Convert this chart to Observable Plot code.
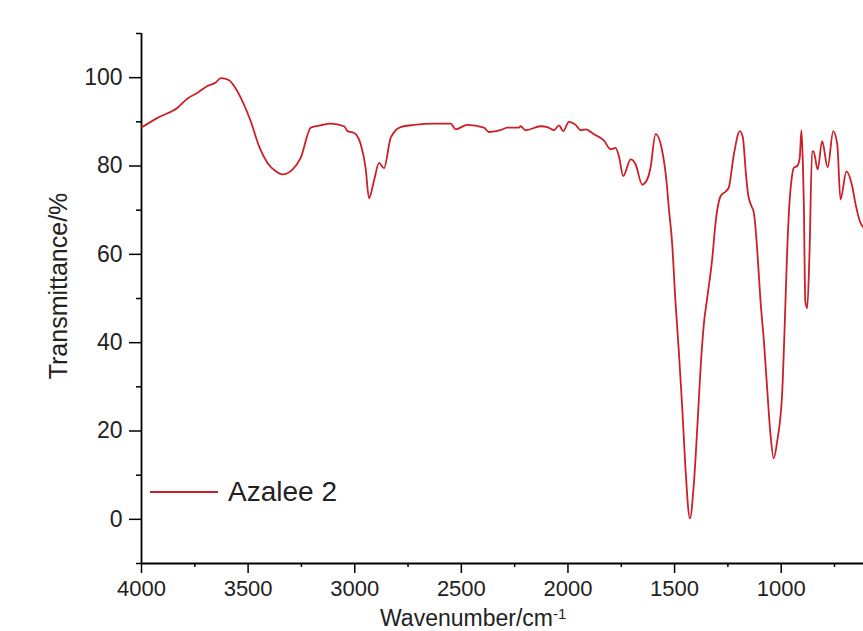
<!DOCTYPE html>
<html>
<head>
<meta charset="utf-8">
<script src="https://cdn.jsdelivr.net/npm/d3@7"></script>
<script src="https://cdn.jsdelivr.net/npm/@observablehq/plot@0.6"></script>
<style>
  html, body { margin: 0; padding: 0; background: #fff; overflow: hidden; }
  #chart { width: 863px; height: 631px; }
  svg { font-family: "Liberation Sans", Arial, sans-serif; }
</style>
</head>
<body>
<div id="chart"></div>
<script>
// Wavenumber (cm^-1) and transmittance (%)
const wavenumber = [
  4000, 3925, 3831, 3784, 3737, 3691, 3652, 3628, 3589, 3566, 3527, 3488, 3449, 3409, 3370, 3339,
  3292, 3253, 3206, 3160, 3113, 3050, 3034, 3010, 2995, 2972, 2949, 2933, 2910, 2886, 2863, 2831,
  2785, 2722, 2628, 2550, 2527, 2472, 2394, 2371, 2316, 2284, 2230, 2222, 2199, 2128, 2097, 2066,
  2042, 2022, 1996, 1964, 1941, 1917, 1878, 1832, 1800, 1777, 1761, 1741, 1706, 1683, 1652, 1628,
  1613, 1589, 1558, 1538, 1527, 1511, 1496, 1480, 1464, 1449, 1428, 1410, 1391, 1378, 1363, 1347,
  1323, 1307, 1292, 1284, 1261, 1246, 1222, 1194, 1180, 1165, 1155, 1140, 1128, 1112, 1097, 1081,
  1066, 1050, 1035, 1019, 995, 985, 972, 960, 950, 941, 925, 913, 905, 898, 894, 887,
  878, 867, 855, 848, 829, 808, 782, 756, 737, 722, 694, 667, 651, 628, 614
];
const transmittance = [
  88.7, 90.9, 93.2, 95.3, 96.6, 98.1, 98.9, 99.9, 99.4, 98.1, 94.7, 90.2, 84.5, 80.7, 78.8, 78.1,
  79.2, 81.9, 88.7, 89.2, 89.6, 89.0, 87.9, 87.6, 87.2, 84.9, 79.6, 72.7, 76.6, 80.7, 79.5, 86.4,
  88.8, 89.3, 89.6, 89.6, 88.3, 89.3, 88.7, 87.7, 88.1, 88.7, 88.7, 89.0, 88.1, 89.0, 88.8, 88.1,
  89.2, 87.9, 90.0, 89.3, 88.1, 88.3, 87.2, 85.8, 83.8, 84.1, 82.2, 77.7, 81.5, 80.4, 75.8, 77.0,
  79.6, 87.2, 83.4, 76.6, 70.5, 62.2, 49.4, 38.0, 25.2, 11.6, 0.2, 7.8, 22.9, 34.2, 44.1, 50.1,
  59.2, 67.5, 72.0, 73.2, 74.2, 75.1, 82.6, 87.9, 86.5, 78.0, 73.5, 71.0, 69.4, 60.7, 49.4, 40.3,
  29.7, 19.1, 13.8, 17.6, 29.0, 41.8, 60.7, 72.5, 77.5, 79.6, 80.0, 81.9, 88.1, 80.0, 72.0, 49.4,
  47.8, 60.7, 83.3, 83.3, 79.2, 85.6, 79.7, 87.9, 84.9, 72.4, 78.8, 75.4, 71.3, 67.1, 66.1
];
const xMajorTicks = [4000, 3500, 3000, 2500, 2000, 1500, 1000];
const xMinorTicks = [3750, 3250, 2750, 2250, 1750, 1250, 750];
const yMajorTicks = [0, 20, 40, 60, 80, 100];
const yMinorTicks = [-10, 10, 30, 50, 70, 90, 110];
const seriesName = "Azalee 2";
const xTitle = "Wavenumber/cm";
const xTitleSup = "-1";
const yTitle = "Transmittance/%";

const data = wavenumber.map((w, i) => ({w, t: transmittance[i]}));
const lineColor = "#cc1f26";
const fmt = d => String(d);

const svg = Plot.plot({
  width: 863,
  height: 631,
  marginLeft: 141,
  marginRight: 0,
  marginTop: 33,
  marginBottom: 68,
  style: {fontFamily: "'Liberation Sans', Arial, sans-serif", background: "#fff"},
  x: {domain: [4000, 614], label: null},
  y: {domain: [-10, 110], label: null},
  marks: [
    Plot.axisX({ticks: xMajorTicks, tickFormat: fmt, tickSize: 10, tickPadding: 7, fontSize: 22, stroke: "#000", strokeWidth: 1.5, color: "#222", label: null}),
    Plot.axisX({ticks: xMinorTicks, tickSize: 4, text: null, stroke: "#000", strokeWidth: 1.5, label: null}),
    Plot.axisY({ticks: yMajorTicks, tickFormat: fmt, tickSize: 12, tickPadding: 7, fontSize: 23, stroke: "#000", strokeWidth: 1.5, color: "#222", label: null}),
    Plot.axisY({ticks: yMinorTicks, tickSize: 5, text: null, stroke: "#000", strokeWidth: 1.5, label: null}),
    Plot.ruleX([4000], {y1: -10, y2: 110, stroke: "#000", strokeWidth: 1.8}),
    Plot.ruleY([-10], {stroke: "#000", strokeWidth: 1.8}),
    Plot.line(data, {x: "w", y: "t", stroke: lineColor, strokeWidth: 1.8, curve: "monotone-x"})
  ]
});

const s = d3.select(svg);
// Y axis title
s.append("text")
  .attr("transform", "translate(67,286) rotate(-90)")
  .attr("text-anchor", "middle")
  .attr("font-size", 25)
  .attr("fill", "#222")
  .text(yTitle);
// X axis title (near the bottom edge, as in the reference)
const xt = s.append("text")
  .attr("x", 380).attr("y", 626)
  .attr("text-anchor", "start")
  .attr("font-size", 23)
  .attr("fill", "#222")
  .text(xTitle);
xt.append("tspan").attr("dy", -7).attr("font-size", 15).text(xTitleSup);
// Legend
s.append("line")
  .attr("x1", 150).attr("x2", 218).attr("y1", 492).attr("y2", 492)
  .attr("stroke", lineColor).attr("stroke-width", 1.8);
s.append("text")
  .attr("x", 228).attr("y", 501)
  .attr("text-anchor", "start")
  .attr("font-size", 28)
  .attr("fill", "#222")
  .text(seriesName);

document.getElementById("chart").appendChild(svg);
</script>
</body>
</html>
